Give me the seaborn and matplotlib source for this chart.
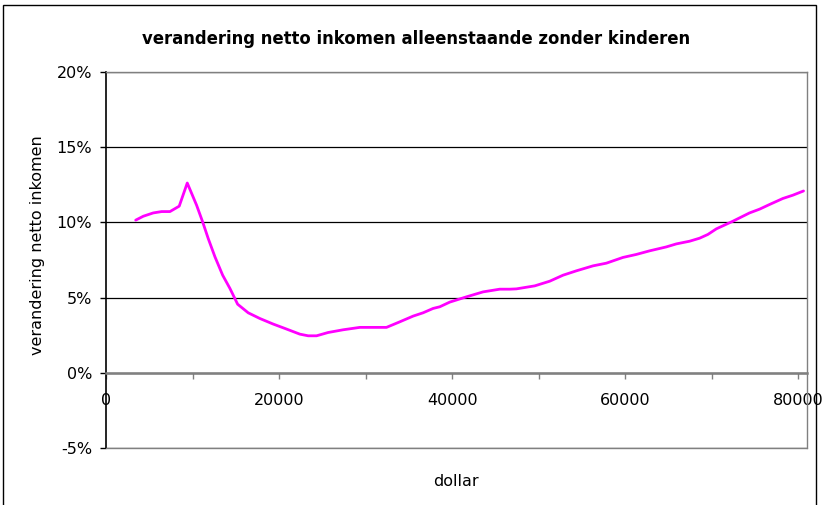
import matplotlib
matplotlib.use("Agg")
import matplotlib.pyplot as plt
from matplotlib.patches import Rectangle
import seaborn as sns
import pandas as pd

# ---- data ----
income = [3430, 4310, 5460, 6430, 7390, 8460, 9390, 10470, 11170, 11810,
          12590, 13480, 14320, 15210, 16430, 17780, 19320, 20670, 22400, 23360,
          24330, 25670, 27400, 29330, 30870, 32410, 33950, 35490, 36640, 37800,
          38570, 39720, 41650, 43570, 45500, 46650, 47420, 49540, 51270, 52810,
          54350, 56270, 57820, 59730, 61280, 62820, 64740, 65900, 67440, 68590,
          69550, 70520, 72440, 74360, 75520, 76670, 78210, 79370, 80600]
change_pct = [10.15, 10.41, 10.63, 10.72, 10.72, 11.08, 12.62, 11.14, 10.03, 8.93,
              7.71, 6.49, 5.61, 4.56, 3.99, 3.61, 3.24, 2.95, 2.57, 2.46,
              2.46, 2.68, 2.86, 3.02, 3.02, 3.02, 3.39, 3.77, 3.99, 4.28,
              4.39, 4.70, 5.05, 5.38, 5.56, 5.56, 5.58, 5.78, 6.09, 6.49,
              6.78, 7.11, 7.29, 7.67, 7.87, 8.11, 8.37, 8.57, 8.75, 8.95,
              9.20, 9.57, 10.08, 10.63, 10.88, 11.19, 11.59, 11.81, 12.09]

x_ticks = [0, 10000, 20000, 30000, 40000, 50000, 60000, 70000, 80000]
x_tick_labels = ["0", "", "20000", "", "40000", "", "60000", "", "80000"]
y_ticks = [-0.05, 0.0, 0.05, 0.10, 0.15, 0.20]
y_tick_labels = ["-5%", "0%", "5%", "10%", "15%", "20%"]

title = "verandering netto inkomen alleenstaande zonder kinderen"
x_label = "dollar"
y_label = "verandering netto inkomen"

df = pd.DataFrame({"dollar": income, "change": [v / 100 for v in change_pct]})

# ---- figure ----
sns.set_style("white")
plt.rcParams["font.family"] = ["DejaVu Sans"]
plt.rcParams["axes.unicode_minus"] = False
plt.rcParams["text.color"] = "black"

W, H = 830, 505
fig = plt.figure(figsize=(W / 100, H / 100), dpi=100)
L, R, T, B = 106, 807, 72, 448
ax = fig.add_axes([L / W, 1 - B / H, (R - L) / W, (B - T) / H])

sns.lineplot(data=df, x="dollar", y="change", ax=ax, color="#FF00FF",
             linewidth=2.0, legend=False)

ax.set_xlim(0, 81000)
ax.set_ylim(-0.05, 0.20)

gray = "#808080"
ax.set_axisbelow(True)
ax.yaxis.grid(True, color="black", linewidth=0.9)
ax.xaxis.grid(False)

for s in ["top", "right"]:
    ax.spines[s].set_color(gray)
    ax.spines[s].set_linewidth(1.0)
ax.spines["left"].set_color("black")
ax.spines["left"].set_linewidth(1.2)
ax.spines["bottom"].set_position(("data", 0))
ax.spines["bottom"].set_color(gray)
ax.spines["bottom"].set_linewidth(1.8)
ax.axhline(-0.05, color=gray, linewidth=1.0, clip_on=False, zorder=3)

ax.set_xticks(x_ticks)
ax.set_xticklabels(x_tick_labels)
ax.set_yticks(y_ticks)
ax.set_yticklabels(y_tick_labels)
ax.tick_params(axis="x", direction="out", length=4.5, width=1, color=gray,
               labelcolor="black", labelsize=11.5, pad=10, bottom=True)
ax.tick_params(axis="y", direction="out", length=4.5, width=1, color="black",
               labelcolor="black", labelsize=11.5, pad=5.5, left=True)
ax.set_xlabel("")
ax.set_ylabel("")

fig.text(456 / W, 1 - 481 / H, x_label, ha="center", va="center",
         fontsize=11.5, color="black")
fig.text(38 / W, 1 - 245 / H, y_label, ha="center", va="center",
         rotation=90, fontsize=11.5, color="black")
fig.text(416 / W, 1 - 39 / H, title, ha="center", va="center",
         fontsize=11.9, fontweight="bold", color="black")

fig.patches.append(Rectangle((3 / W, -0.02), (816 - 3) / W, 1 - 5 / H + 0.02,
                             transform=fig.transFigure, fill=False,
                             edgecolor="black", linewidth=1.0))

fig.savefig("out.png", dpi=100)
